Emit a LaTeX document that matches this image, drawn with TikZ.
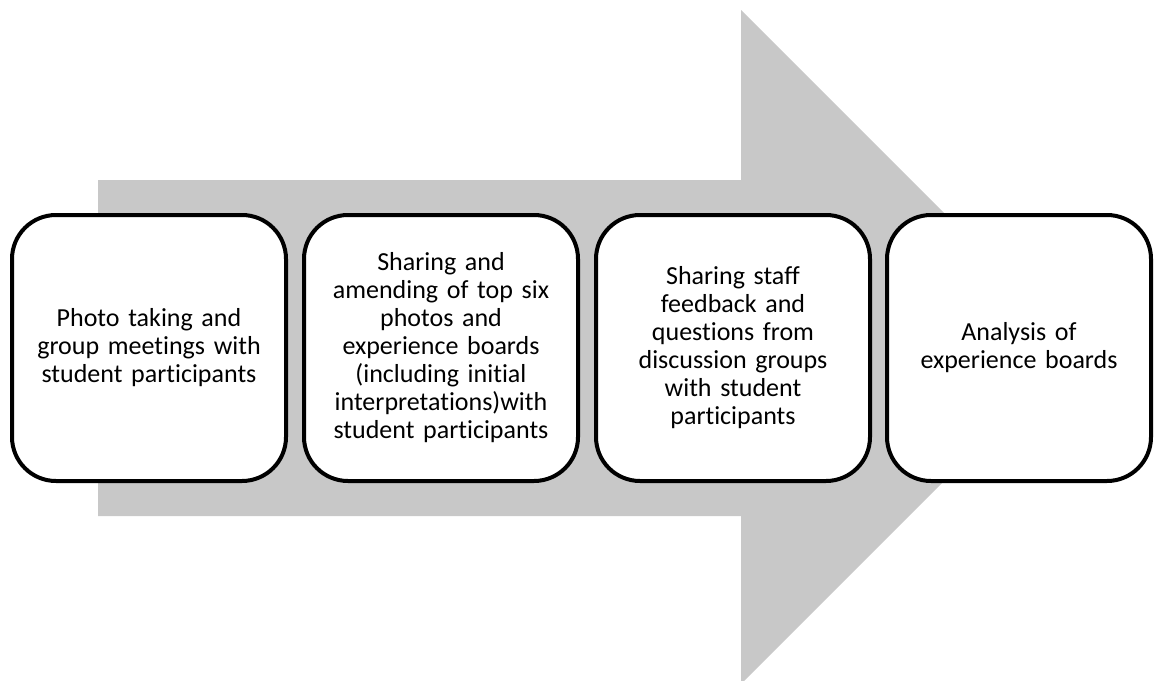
\documentclass[tikz,border=0pt]{standalone}
\usepackage{fontspec}
\setmainfont{Carlito}[Ligatures=NoCommon]
\definecolor{arrowgrey}{RGB}{200,200,200}
\begin{document}
\begin{tikzpicture}[x=1pt,y=-1pt,
  stagebox/.style={draw=black, line width=4pt, fill=white, rounded corners=44pt,
    minimum width=274pt, minimum height=266pt, text width=262pt, align=center,
    inner sep=0pt, font=\fontsize{26}{28}\selectfont}]
\useasboundingbox (0,0) rectangle (1155,680);
\fill[arrowgrey] (98,180) -- (741,180) -- (741,10) -- (1078,347) -- (741,684) -- (741,516) -- (98,516) -- cycle;
\node[stagebox] (s1) at (149,348) {Photo taking and\\group meetings with\\student participants};
\node[stagebox] (s2) at (441,348) {Sharing and\\amending of top six\\photos and\\experience boards\\(including initial\\interpretations)with\\student participants};
\node[stagebox] (s3) at (733,348) {Sharing staff\\feedback and\\questions from\\discussion groups\\with student\\participants};
\node[stagebox, minimum width=264pt, text width=250pt] (s4) at (1019,348) {Analysis of\\experience boards};
\end{tikzpicture}
\end{document}
